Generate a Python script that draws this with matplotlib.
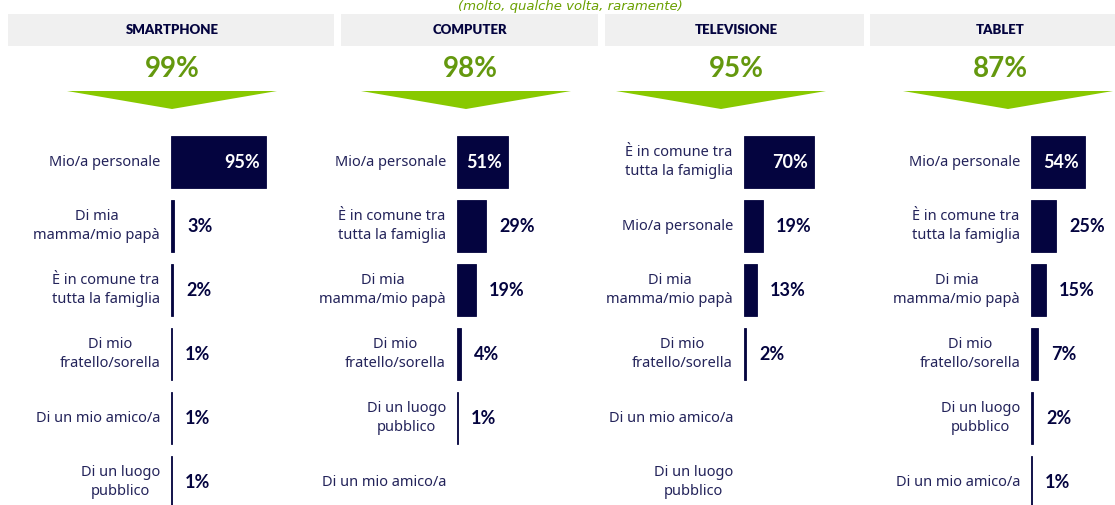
import matplotlib
matplotlib.use("Agg")
import matplotlib.pyplot as plt
from matplotlib.patches import Rectangle, Polygon

W, H = 1115, 505

devices = ["SMARTPHONE", "COMPUTER", "TELEVISIONE", "TABLET"]
totals = ["99%", "98%", "95%", "87%"]

lab_smart = ["Mio/a personale", "Di mia\nmamma/mio papà", "È in comune tra\ntutta la famiglia",
             "Di mio\nfratello/sorella", "Di un mio amico/a", "Di un luogo\npubblico"]
val_smart = [95, 3, 2, 1, 1, 1]

lab_comp = ["Mio/a personale", "È in comune tra\ntutta la famiglia", "Di mia\nmamma/mio papà",
            "Di mio\nfratello/sorella", "Di un luogo\npubblico", "Di un mio amico/a"]
val_comp = [51, 29, 19, 4, 1, 0]

lab_tv = ["È in comune tra\ntutta la famiglia", "Mio/a personale", "Di mia\nmamma/mio papà",
          "Di mio\nfratello/sorella", "Di un mio amico/a", "Di un luogo\npubblico"]
val_tv = [70, 19, 13, 2, 0, 0]

lab_tab = ["Mio/a personale", "È in comune tra\ntutta la famiglia", "Di mia\nmamma/mio papà",
           "Di mio\nfratello/sorella", "Di un luogo\npubblico", "Di un mio amico/a"]
val_tab = [54, 25, 15, 7, 2, 1]

labels = [lab_smart, lab_comp, lab_tv, lab_tab]
values = [val_smart, val_comp, val_tv, val_tab]

navy = "#04043f"
text_navy = "#23235a"
green = "#64980e"
light_green = "#88c900"
grey = "#f0f0f0"

# layout in pixels
box_x = [(8, 334), (341, 598), (605, 864), (870, 1115)]
centers = [172, 470, 736, 1000]
tri_x = [(67, 277), (361, 571), (616, 826), (903, 1113)]
axis_x = [171, 457, 744, 1031]

fig = plt.figure(figsize=(W / 100, H / 100), dpi=100)
bg = fig.add_axes([0, 0, 1, 1])
bg.set_xlim(0, W)
bg.set_ylim(H, 0)
bg.axis("off")

# subtitle squeezed above the header boxes
bg.text(570, 6.5, "(molto, qualche volta, raramente)", ha="center", va="center",
        fontsize=9.5, style="italic", color="#6aa000")

for i in range(4):
    x0, x1 = box_x[i]
    bg.add_patch(Rectangle((x0, 14), x1 - x0, 32, color=grey, lw=0))
    bg.text(centers[i], 30, devices[i], ha="center", va="center", fontsize=9.5,
            fontweight="heavy", color=navy, family="Lato")
    bg.text(centers[i], 69, totals[i], ha="center", va="center", fontsize=20,
            fontweight="bold", color=green, family="Lato")
    t0, t1 = tri_x[i]
    bg.add_patch(Polygon([(t0, 91), (t1, 91), ((t0 + t1) / 2, 109)], closed=True,
                         color=light_green, lw=0))

row_h = 64
top = 130
for i in range(4):
    ax = fig.add_axes([axis_x[i] / W, (H - top - 6 * row_h) / H, 100 / W, 6 * row_h / H])
    ax.set_xlim(0, 100)
    ax.set_ylim(5.5, -0.5)
    ax.axis("off")
    vals = values[i]
    ys = list(range(len(vals)))
    lws = [0.6 if v > 0 else 0 for v in vals]
    ax.barh(ys, vals, height=52 / 64, color=navy, edgecolor=navy, linewidth=lws)
    for j, (lab, v) in enumerate(zip(labels[i], vals)):
        ax.annotate(lab, xy=(0, j), xytext=(-11, 0), textcoords="offset pixels",
                    ha="right", va="center", multialignment="center",
                    fontsize=10.5, color=text_navy, family="Noto Sans", linespacing=1.4)
        if v == 0:
            continue
        if j == 0:
            ax.annotate(f"{v}%", xy=(v, j), xytext=(-6, 0), textcoords="offset pixels",
                        ha="right", va="center", fontsize=13, fontweight="bold",
                        color="white", family="Lato")
        else:
            ax.annotate(f"{v}%", xy=(v, j), xytext=(13, 0), textcoords="offset pixels",
                        ha="left", va="center", fontsize=13, fontweight="bold",
                        color=navy, family="Lato")

fig.savefig("out.png", dpi=100)
